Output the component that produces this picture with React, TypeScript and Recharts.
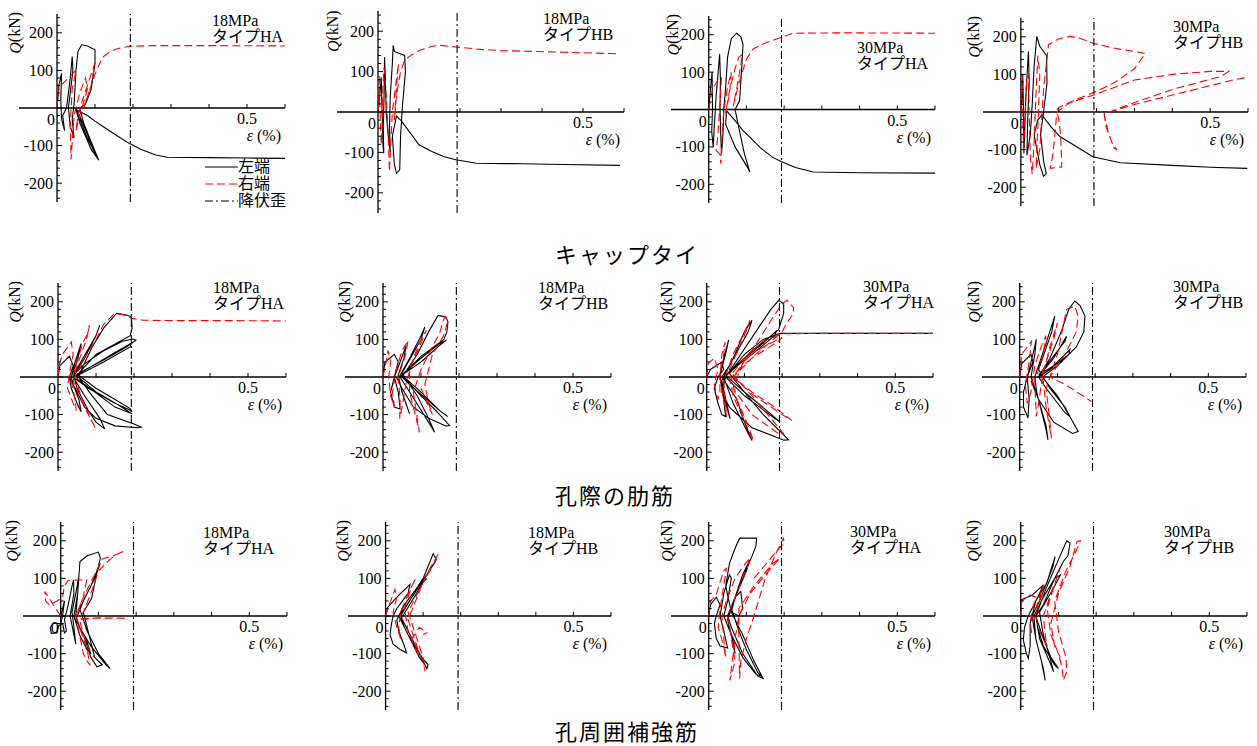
import React from 'react';
import { LineChart, Line, XAxis, YAxis, ReferenceLine, ReferenceDot, Legend } from 'recharts';

// ---------- axis / label values ----------
const xDomain: [number, number] = [-0.1, 0.6];
const yDomain: [number, number] = [-250, 250];
const yMajorTicks = [-200, -100, 0, 100, 200];
const yMinorTicks = [-240, -220, -180, -160, -140, -120, -80, -60, -40, -20, 20, 40, 60, 80, 120, 140, 160, 180, 220, 240];
const xTicks = [0.1, 0.2, 0.3, 0.4, 0.5, 0.6];
const xTickLabels = [0.5];
const yieldStrain = 0.193;
const rowTitles = ['キャップタイ', '孔際の肋筋', '孔周囲補強筋'];
const strengths = ['18MPa', '18MPa', '30MPa', '30MPa'];
const types = ['タイプHA', 'タイプHB', 'タイプHA', 'タイプHB'];
const seriesNames = ['左端', '右端', '降伏歪'];

// ---------- data: [strain %, Q kN] ----------
// キャップタイ
const cap18HALeft = [[0,0],[0.005,60],[0.012,92],[0.01,20],[0.012,-30],[0.02,-60],[0.015,-20],[0.025,0],[0.035,80],[0.04,137],[0.042,100],[0.03,0],[0.035,-50],[0.045,-80],[0.04,-30],[0.045,10],[0.05,100],[0.055,150],[0.065,168],[0.08,165],[0.1,155],[0.1,120],[0.09,50],[0.075,10],[0.06,0],[0.07,-40],[0.09,-90],[0.11,-139],[0.1,-120],[0.08,-80],[0.06,-30],[0.05,0],[0.07,-45],[0.09,-95],[0.108,-136],[0.09,-110],[0.06,-40],[0.05,-5],[0.08,-20],[0.1,-35],[0.13,-55],[0.16,-75],[0.19,-94],[0.22,-110],[0.26,-125],[0.29,-131],[0.4,-132],[0.5,-133],[0.6,-134]];
const cap18HARight = [[0,0],[0.005,55],[0.03,80],[0.05,100],[0.04,50],[0.035,-40],[0.037,-137],[0.04,-90],[0.045,-20],[0.06,40],[0.075,80],[0.08,50],[0.06,-20],[0.05,-60],[0.055,-20],[0.07,30],[0.09,90],[0.1,120],[0.09,60],[0.07,0],[0.08,30],[0.1,90],[0.12,135],[0.14,150],[0.16,158],[0.19,164],[0.25,166],[0.4,166],[0.6,165]];
const cap18HBLeft = [[0,0],[0.006,60],[0.008,86],[0.01,0],[0.012,-80],[0.014,-102],[0.013,-40],[0.015,50],[0.016,136],[0.018,80],[0.02,0],[0.025,-60],[0.03,-100],[0.028,-40],[0.03,40],[0.035,120],[0.037,165],[0.04,150],[0.065,140],[0.067,100],[0.06,20],[0.055,-60],[0.053,-143],[0.045,-152],[0.04,-130],[0.035,-60],[0.045,-10],[0.057,-22],[0.07,-40],[0.1,-81],[0.13,-97],[0.16,-110],[0.19,-118],[0.24,-127],[0.35,-128],[0.45,-130],[0.59,-132]];
const cap18HBRight = [[0,0],[0.003,90],[0.005,0],[0.008,-80],[0.01,-40],[0.012,60],[0.015,110],[0.02,40],[0.025,-60],[0.028,-148],[0.03,-100],[0.035,0],[0.045,80],[0.05,120],[0.045,60],[0.04,-20],[0.045,40],[0.055,100],[0.065,128],[0.08,140],[0.1,152],[0.13,162],[0.15,165],[0.19,161],[0.25,155],[0.3,152],[0.45,148],[0.59,144]];
const cap30HALeft = [[0,0],[0.005,60],[0.009,100],[0.01,0],[0.008,-60],[0.012,-100],[0.015,-40],[0.02,40],[0.029,148],[0.031,80],[0.03,0],[0.032,-70],[0.034,-118],[0.038,-60],[0.04,0],[0.045,60],[0.05,140],[0.06,190],[0.074,204],[0.085,195],[0.091,175],[0.088,120],[0.082,24],[0.07,0],[0.08,-50],[0.095,-120],[0.109,-167],[0.1,-150],[0.07,-100],[0.045,-40],[0.047,-3],[0.07,-30],[0.09,-55],[0.109,-74],[0.14,-105],[0.17,-128],[0.193,-140],[0.23,-155],[0.277,-167],[0.4,-169],[0.6,-170]];
const cap30HARight = [[0,0],[0.01,55],[0.025,80],[0.034,86],[0.03,20],[0.025,-60],[0.02,-110],[0.03,-120],[0.032,-145],[0.035,-80],[0.04,0],[0.05,60],[0.06,100],[0.055,40],[0.045,-10],[0.055,50],[0.07,110],[0.08,140],[0.09,148],[0.075,60],[0.065,10],[0.08,70],[0.1,135],[0.118,162],[0.15,178],[0.193,193],[0.224,204],[0.35,205],[0.6,204]];
const cap30HBLeft = [[0,0],[0.004,60],[0.005,99],[0.007,0],[0.008,-110],[0.01,-60],[0.013,40],[0.02,161],[0.022,80],[0.018,-20],[0.016,-115],[0.025,-60],[0.03,20],[0.035,120],[0.042,201],[0.05,175],[0.06,161],[0.068,150],[0.069,76],[0.06,0],[0.052,-60],[0.06,-130],[0.067,-164],[0.06,-171],[0.05,-140],[0.035,-60],[0.045,-20],[0.056,-8],[0.08,-40],[0.104,-66],[0.14,-88],[0.19,-119],[0.263,-135],[0.4,-142],[0.5,-147],[0.598,-150]];
const cap30HBRight = [[0,0],[0.003,100],[0.005,0],[0.007,-110],[0.01,-30],[0.015,80],[0.02,100],[0.022,0],[0.025,-120],[0.03,-165],[0.035,-80],[0.04,50],[0.045,150],[0.05,100],[0.045,-40],[0.04,-150],[0.05,-100],[0.06,60],[0.073,179],[0.1,195],[0.13,201],[0.16,195],[0.19,183],[0.245,170],[0.329,156],[0.3,115],[0.25,80],[0.2,55],[0.15,35],[0.1,12],[0.095,5],[0.1,-20],[0.105,-60],[0.108,-146],[0.078,-150],[0.085,-110],[0.09,-60],[0.095,0],[0.13,25],[0.2,48],[0.3,85],[0.4,100],[0.5,108],[0.549,108],[0.53,95],[0.4,60],[0.3,25],[0.22,-5],[0.225,-40],[0.24,-80],[0.254,-101],[0.245,-95],[0.23,-50],[0.22,-5],[0.3,20],[0.4,45],[0.5,70],[0.56,85],[0.598,92]];

// 孔際の肋筋
const stir18HALeft = [[0,0],[0.005,30],[0.03,55],[0.04,30],[0.03,0],[0.035,-30],[0.05,-70],[0.061,-93],[0.055,-60],[0.04,-20],[0.035,0],[0.045,40],[0.061,89],[0.055,60],[0.04,10],[0.05,-30],[0.08,-90],[0.1,-120],[0.123,-138],[0.11,-110],[0.07,-50],[0.04,0],[0.07,50],[0.1,110],[0.11,138],[0.1,110],[0.06,40],[0.04,5],[0.07,35],[0.12,70],[0.17,95],[0.197,101],[0.205,98],[0.18,80],[0.12,45],[0.05,8],[0.1,-30],[0.15,-60],[0.19,-84],[0.193,-90],[0.15,-70],[0.08,-30],[0.04,0],[0.1,35],[0.15,65],[0.193,90],[0.19,80],[0.12,40],[0.05,3],[0.1,-40],[0.16,-75],[0.195,-98],[0.15,-80],[0.05,-5],[0.09,80],[0.12,130],[0.154,169],[0.18,165],[0.193,160],[0.195,130],[0.19,110],[0.1,60],[0.05,5],[0.09,-50],[0.13,-100],[0.2,-125],[0.219,-133],[0.21,-135],[0.15,-130],[0.1,-110],[0.07,-80],[0.05,-40],[0.03,0]];
const stir18HARight = [[0,0],[0.005,40],[0.013,62],[0.035,93],[0.04,60],[0.03,10],[0.025,-30],[0.04,-70],[0.048,-89],[0.045,-60],[0.035,-10],[0.05,40],[0.065,90],[0.08,120],[0.083,138],[0.075,100],[0.05,30],[0.04,-10],[0.06,-60],[0.08,-100],[0.1,-138],[0.09,-120],[0.06,-50],[0.045,0],[0.07,50],[0.1,100],[0.12,140],[0.149,169],[0.17,166],[0.193,156],[0.224,151],[0.3,150],[0.45,150],[0.6,149]];
const stir18HBLeft = [[0,0],[0.005,40],[0.03,60],[0.04,40],[0.03,0],[0.02,-40],[0.03,-80],[0.045,-85],[0.04,-40],[0.03,0],[0.045,40],[0.061,84],[0.055,50],[0.04,5],[0.05,-40],[0.07,-98],[0.06,-70],[0.04,-5],[0.07,50],[0.1,110],[0.11,133],[0.1,100],[0.05,10],[0.09,-50],[0.12,-110],[0.136,-147],[0.12,-120],[0.07,-40],[0.045,0],[0.1,50],[0.15,90],[0.167,98],[0.15,85],[0.1,40],[0.05,5],[0.1,-40],[0.15,-90],[0.17,-105],[0.15,-90],[0.07,-20],[0.05,0],[0.09,60],[0.12,120],[0.145,164],[0.165,160],[0.171,147],[0.168,120],[0.16,100],[0.1,55],[0.05,5],[0.1,-50],[0.14,-90],[0.175,-129],[0.165,-130],[0.12,-110],[0.08,-80],[0.05,-30],[0.035,0]];
const stir18HBRight = [[0,0],[0.01,50],[0.013,71],[0.02,40],[0.015,0],[0.02,-50],[0.03,-80],[0.025,-40],[0.035,20],[0.05,70],[0.066,98],[0.06,60],[0.04,0],[0.045,-60],[0.044,-111],[0.05,-80],[0.06,-20],[0.08,50],[0.1,100],[0.114,124],[0.1,90],[0.07,20],[0.07,-40],[0.085,-100],[0.096,-147],[0.09,-110],[0.08,-40],[0.1,20],[0.13,80],[0.15,120],[0.162,160],[0.171,151],[0.16,110],[0.13,60],[0.11,-20],[0.12,-70],[0.13,-100],[0.12,-80],[0.1,-30]];
const stir30HALeft = [[0,0],[0.01,20],[0.04,40],[0.045,20],[0.03,0],[0.02,-30],[0.03,-70],[0.04,-100],[0.05,-105],[0.045,-60],[0.035,0],[0.045,50],[0.058,98],[0.05,60],[0.035,5],[0.045,-50],[0.062,-111],[0.055,-80],[0.04,-10],[0.07,50],[0.1,120],[0.12,151],[0.11,120],[0.06,30],[0.04,0],[0.08,-60],[0.1,-120],[0.12,-169],[0.11,-150],[0.07,-70],[0.045,0],[0.1,50],[0.15,90],[0.186,124],[0.18,110],[0.12,60],[0.05,5],[0.1,-40],[0.16,-90],[0.195,-120],[0.18,-110],[0.1,-50],[0.05,0],[0.09,60],[0.13,120],[0.17,180],[0.191,204],[0.204,195],[0.204,169],[0.195,140],[0.19,125],[0.12,70],[0.06,10],[0.1,-40],[0.15,-100],[0.2,-150],[0.217,-167],[0.205,-168],[0.12,-135],[0.06,-80],[0.04,-40],[0.05,0],[0.1,60],[0.15,100],[0.195,116],[0.3,116],[0.45,116],[0.6,116]];
const stir30HARight = [[0,0],[0.004,36],[0.02,50],[0.03,20],[0.02,-20],[0.03,-60],[0.035,-40],[0.035,10],[0.045,60],[0.049,93],[0.04,60],[0.035,0],[0.045,-60],[0.053,-107],[0.05,-70],[0.045,-10],[0.07,60],[0.1,120],[0.115,151],[0.1,110],[0.06,20],[0.08,-60],[0.11,-130],[0.124,-169],[0.11,-140],[0.07,-50],[0.06,0],[0.1,50],[0.15,80],[0.2,105],[0.19,95],[0.12,50],[0.07,0],[0.12,-40],[0.18,-80],[0.226,-116],[0.2,-100],[0.12,-45],[0.07,0],[0.12,70],[0.17,150],[0.2,195],[0.213,204],[0.23,185],[0.23,169],[0.21,140],[0.2,120],[0.13,60],[0.07,5],[0.12,-50],[0.17,-110],[0.204,-151],[0.19,-150],[0.12,-100],[0.07,-30],[0.1,50],[0.15,95],[0.2,115],[0.3,116],[0.45,116],[0.6,116]];
const stir30HBLeft = [[0,0],[0.005,35],[0.03,60],[0.035,40],[0.02,0],[0.01,-40],[0.01,-80],[0.022,-109],[0.025,-60],[0.02,0],[0.035,60],[0.044,100],[0.04,60],[0.03,0],[0.05,-60],[0.07,-130],[0.075,-167],[0.07,-140],[0.045,-40],[0.04,0],[0.07,90],[0.093,162],[0.085,120],[0.05,20],[0.08,-30],[0.12,-80],[0.133,-105],[0.12,-95],[0.07,-30],[0.05,0],[0.09,50],[0.124,108],[0.12,95],[0.07,30],[0.05,5],[0.09,30],[0.133,73],[0.13,60],[0.08,20],[0.05,0],[0.08,50],[0.11,120],[0.13,180],[0.146,202],[0.16,190],[0.173,162],[0.17,120],[0.15,80],[0.1,30],[0.06,0],[0.1,-50],[0.13,-100],[0.155,-145],[0.14,-150],[0.09,-120],[0.05,-60],[0.03,-10]];
const stir30HBRight = [[0,0],[0.005,60],[0.02,80],[0.031,95],[0.025,40],[0.015,-20],[0.02,-70],[0.03,-40],[0.04,30],[0.06,90],[0.07,110],[0.06,50],[0.04,-10],[0.044,-105],[0.05,-70],[0.06,0],[0.08,80],[0.1,144],[0.09,100],[0.06,10],[0.07,-80],[0.084,-163],[0.08,-120],[0.07,-30],[0.1,60],[0.124,180],[0.146,188],[0.155,162],[0.15,120],[0.12,60],[0.08,0],[0.12,-20],[0.16,-45],[0.19,-65]];

// 孔周囲補強筋
const ring18HALeft = [[0,0],[0.005,20],[0.01,40],[0.005,0],[0,-20],[-0.02,-20],[-0.028,-30],[-0.025,-46],[-0.01,-45],[-0.005,-25],[0.005,-20],[0.01,-45],[0.015,-40],[0.01,-10],[0.02,30],[0.03,80],[0.034,96],[0.035,60],[0.025,0],[0.035,-50],[0.04,-75],[0.035,-30],[0.03,10],[0.04,60],[0.047,100],[0.045,60],[0.035,0],[0.05,-50],[0.07,-90],[0.08,-100],[0.07,-70],[0.04,-10],[0.06,40],[0.08,80],[0.1,130],[0.105,140],[0.09,100],[0.05,20],[0.07,-40],[0.1,-100],[0.131,-140],[0.12,-130],[0.08,-80],[0.05,-30],[0.04,0],[0.045,60],[0.051,145],[0.07,160],[0.1,170],[0.105,154],[0.095,110],[0.082,47],[0.06,10],[0.075,-50],[0.09,-110],[0.11,-130],[0.096,-135],[0.08,-110],[0.06,-50]];
const ring18HARight = [[0,0],[-0.02,30],[-0.042,65],[-0.04,40],[-0.03,29],[-0.01,40],[0.005,50],[0.01,80],[0.02,95],[0.06,96],[0.069,96],[0.06,50],[0.04,0],[0.05,-50],[0.06,-100],[0.07,-120],[0.078,-131],[0.07,-90],[0.05,-30],[0.04,0],[0.06,50],[0.08,90],[0.1,130],[0.105,149],[0.12,155],[0.14,160],[0.167,172],[0.15,165],[0.13,150],[0.1,120],[0.08,60],[0.06,10],[0.05,-6],[0.1,-6],[0.175,-6],[0.1,-5],[0.05,-10],[0.06,-50],[0.08,-100],[0.09,-110]];
const ring18HBLeft = [[0,0],[0.005,22],[0.03,50],[0.065,84],[0.06,60],[0.03,20],[0.02,0],[0.015,-25],[0.012,-50],[0.02,-75],[0.04,-90],[0.056,-98],[0.05,-80],[0.035,-40],[0.03,-10],[0.05,30],[0.08,70],[0.1,100],[0.09,80],[0.05,20],[0.035,0],[0.06,-50],[0.09,-100],[0.105,-130],[0.09,-110],[0.05,-30],[0.04,0],[0.07,50],[0.1,100],[0.127,166],[0.135,150],[0.11,110],[0.07,50],[0.04,0],[0.06,-40],[0.09,-100],[0.11,-140],[0.113,-129],[0.1,-115],[0.06,-50],[0.04,-10],[0.07,40],[0.1,90],[0.11,100]];
const ring18HBRight = [[0,0],[0.01,30],[0.025,71],[0.03,50],[0.02,10],[0.03,-30],[0.04,-60],[0.035,-30],[0.04,10],[0.06,60],[0.08,100],[0.07,80],[0.05,20],[0.06,-40],[0.08,-90],[0.09,-100],[0.08,-70],[0.06,-10],[0.08,40],[0.1,90],[0.12,130],[0.14,164],[0.13,140],[0.1,90],[0.06,10],[0.08,-50],[0.1,-110],[0.105,-147],[0.1,-120],[0.07,-60],[0.09,-30],[0.11,-45],[0.1,-50]];
const ring30HALeft = [[0,0],[0.005,30],[0.02,50],[0.03,30],[0.02,0],[0.015,-20],[0.02,-60],[0.03,-80],[0.05,-85],[0.04,-40],[0.03,0],[0.04,60],[0.055,110],[0.06,100],[0.05,40],[0.04,0],[0.06,-50],[0.07,-100],[0.065,-70],[0.05,-10],[0.07,50],[0.09,110],[0.109,149],[0.1,120],[0.07,50],[0.06,10],[0.09,-50],[0.12,-120],[0.144,-166],[0.13,-160],[0.09,-100],[0.06,-30],[0.05,0],[0.07,50],[0.085,65],[0.09,20],[0.08,0],[0.06,10],[0.045,80],[0.055,140],[0.07,180],[0.082,207],[0.127,207],[0.125,185],[0.115,160],[0.09,100],[0.06,20],[0.08,-40],[0.1,-90],[0.13,-150],[0.14,-160],[0.125,-155],[0.09,-110],[0.06,-50]];
const ring30HARight = [[0,0],[0.005,40],[0.02,56],[0.03,90],[0.04,120],[0.047,127],[0.04,80],[0.03,20],[0.025,-30],[0.04,-80],[0.045,-110],[0.04,-60],[0.035,0],[0.05,50],[0.07,100],[0.09,130],[0.109,154],[0.1,120],[0.07,50],[0.05,0],[0.06,-60],[0.07,-120],[0.056,-171],[0.06,-140],[0.07,-60],[0.08,0],[0.11,60],[0.15,110],[0.189,154],[0.17,140],[0.12,80],[0.08,20],[0.08,-60],[0.082,-166],[0.085,-120],[0.1,-60],[0.12,0],[0.15,100],[0.18,170],[0.198,207],[0.2,195],[0.17,160],[0.12,100]];
const ring30HBLeft = [[0,0],[0.001,43],[0.03,55],[0.06,83],[0.05,60],[0.03,20],[0.02,0],[0.01,-30],[0.007,-64],[0.015,-100],[0.02,-113],[0.025,-80],[0.025,-20],[0.04,40],[0.07,90],[0.091,158],[0.085,130],[0.05,40],[0.03,0],[0.04,-60],[0.055,-120],[0.065,-171],[0.06,-140],[0.04,-60],[0.035,0],[0.06,50],[0.09,100],[0.105,109],[0.09,80],[0.05,10],[0.06,-50],[0.08,-120],[0.087,-148],[0.08,-130],[0.05,-60],[0.04,0],[0.07,80],[0.1,150],[0.122,200],[0.131,194],[0.125,160],[0.113,145],[0.09,100],[0.06,30],[0.04,0],[0.06,-60],[0.08,-110],[0.1,-140],[0.09,-130],[0.06,-80],[0.045,-30]];
const ring30HBRight = [[0,0],[0.003,40],[0.025,56],[0.04,50],[0.03,10],[0.025,-20],[0.03,-50],[0.025,-20],[0.04,20],[0.06,83],[0.055,60],[0.04,0],[0.05,-40],[0.07,-80],[0.065,-50],[0.06,0],[0.08,60],[0.105,127],[0.095,100],[0.07,20],[0.08,-50],[0.1,-100],[0.105,-110],[0.09,-80],[0.08,-20],[0.1,60],[0.13,130],[0.149,198],[0.158,200],[0.15,180],[0.12,120],[0.09,40],[0.1,-40],[0.12,-110],[0.122,-148],[0.113,-171],[0.11,-140],[0.1,-100]];

const panelData = [
  [[cap18HALeft, cap18HARight], [cap18HBLeft, cap18HBRight], [cap30HALeft, cap30HARight], [cap30HBLeft, cap30HBRight]],
  [[stir18HALeft, stir18HARight], [stir18HBLeft, stir18HBRight], [stir30HALeft, stir30HARight], [stir30HBLeft, stir30HBRight]],
  [[ring18HALeft, ring18HARight], [ring18HBLeft, ring18HBRight], [ring30HALeft, ring30HARight], [ring30HBLeft, ring30HBRight]],
];

// ---------- layout (pixels) ----------
const layout = [
  [
    { l: 19, r: 285, t: 14, b: 202, ax: 212, ay: 20, q: -42 },
    { l: 337, r: 624, t: 11, b: 213, ax: 543, ay: 18, q: -45 },
    { l: 671, r: 935, t: 16, b: 203, ax: 857, ay: 47, q: -36 },
    { l: 983, r: 1248, t: 18, b: 206, ax: 1173, ay: 26, q: -47 },
  ],
  [
    { l: 20, r: 286, t: 283, b: 471, ax: 213, ay: 287, q: -43 },
    { l: 345, r: 611, t: 283, b: 471, ax: 538, ay: 287, q: -38 },
    { l: 669, r: 933, t: 283, b: 471, ax: 863, ay: 286, q: -40 },
    { l: 982, r: 1246, t: 283, b: 471, ax: 1173, ay: 286, q: -46 },
  ],
  [
    { l: 23, r: 287, t: 522, b: 710, ax: 203, ay: 532, q: -49 },
    { l: 348, r: 611, t: 522, b: 710, ax: 528, ay: 532, q: -43 },
    { l: 671, r: 935, t: 522, b: 710, ax: 850, ay: 531, q: -42 },
    { l: 983, r: 1247, t: 522, b: 710, ax: 1164, ay: 531, q: -48 },
  ],
];
const titleTops = [241, 482, 718];
const legendPos = { x: 205, y: 158 };

const SERIF = '"Liberation Serif", "Times New Roman", Times, "Noto Sans CJK JP", serif';
const CJK = '"Noto Sans CJK JP", "Noto Sans CJK SC", sans-serif';

const seriesStyle: Record<string, { stroke: string; dash?: string; width: number }> = {
  '左端': { stroke: '#000000', width: 1.1 },
  '右端': { stroke: '#ff0000', dash: '8 4', width: 1.1 },
  '降伏歪': { stroke: '#000000', dash: '8 3 2 3', width: 1.1 },
};

const toRows = (pts: number[][]) => pts.map(([x, y]) => ({ x, y }));

const yTickShape = (label: string | null, len: number) => (p: any) => (
  <g>
    <line x1={p.cx} y1={p.cy} x2={p.cx + len} y2={p.cy} stroke="#000" strokeWidth={1} />
    {label !== null && (
      <text x={p.cx - 4} y={p.cy + 5.5} textAnchor="end" fontSize={16} fontFamily={SERIF} fill="#000">{label}</text>
    )}
  </g>
);

const xTickShape = (label: string | null) => (p: any) => (
  <g>
    <line x1={p.cx} y1={p.cy} x2={p.cx} y2={p.cy - 4} stroke="#000" strokeWidth={1} />
    {label !== null && (
      <text x={p.cx} y={p.cy + 16} textAnchor="middle" fontSize={16} fontFamily={SERIF} fill="#000">{label}</text>
    )}
  </g>
);

const LegendBox = (props: any) => {
  const items = (props.payload || [])
    .filter((e: any) => seriesStyle[e.value])
    .slice()
    .sort((a: any, b: any) => seriesNames.indexOf(a.value) - seriesNames.indexOf(b.value));
  return (
    <div style={{ display: 'flex', flexDirection: 'column' }}>
      {items.map((e: any) => {
        const st = seriesStyle[e.value];
        return (
          <div key={e.value} style={{ display: 'flex', alignItems: 'center', height: 17 }}>
            <svg width={33} height={10} style={{ display: 'block' }}>
              <line x1={0} y1={5} x2={33} y2={5} stroke={st.stroke} strokeWidth={1.1} strokeDasharray={st.dash} />
            </svg>
            <span style={{ fontFamily: SERIF, fontSize: 16, lineHeight: '17px', color: '#000', whiteSpace: 'nowrap' }}>{e.value}</span>
          </div>
        );
      })}
    </div>
  );
};

function Panel({ row, col }: { row: number; col: number }) {
  const g = layout[row][col];
  const [leftPts, rightPts] = panelData[row][col];
  const mL = 60, mR = 40, mT = 12, mB = 40;
  const W = g.r - g.l + mL + mR;
  const H = g.b - g.t + mT + mB;
  const showLegend = row === 0 && col === 0;
  const yieldRows = [{ x: yieldStrain, y: yDomain[0] }, { x: yieldStrain, y: yDomain[1] }];
  const annDx = g.ax - g.r;
  const annDy = g.ay - g.t;
  return (
    <div style={{ position: 'absolute', left: g.l - mL, top: g.t - mT }}>
      <LineChart width={W} height={H} margin={{ top: mT, right: mR, bottom: mB, left: mL }}>
        <XAxis type="number" dataKey="x" domain={xDomain} hide allowDataOverflow />
        <YAxis type="number" dataKey="y" domain={yDomain} hide allowDataOverflow />
        <ReferenceLine x={0} stroke="#000" strokeWidth={1.3} />
        <ReferenceLine y={0} stroke="#000" strokeWidth={1.3} />
        {yMinorTicks.map((v) => (
          <ReferenceDot key={'ym' + v} x={0} y={v} r={0} ifOverflow="visible" shape={yTickShape(null, 3)} />
        ))}
        {yMajorTicks.map((v) => (
          <ReferenceDot key={'yM' + v} x={0} y={v} r={0} ifOverflow="visible" shape={yTickShape(v === 0 ? null : String(v), 5)} />
        ))}
        {xTicks.map((v) => (
          <ReferenceDot key={'x' + v} x={v} y={0} r={0} ifOverflow="visible" shape={xTickShape(xTickLabels.includes(v) ? String(v) : null)} />
        ))}
        <ReferenceDot x={0} y={0} r={0} ifOverflow="visible" shape={(p: any) => (
          <text x={p.cx - 2} y={p.cy + 17} textAnchor="end" fontSize={16} fontFamily={SERIF} fill="#000">0</text>
        )} />
        <ReferenceDot x={xDomain[1]} y={0} r={0} ifOverflow="visible" shape={(p: any) => (
          <text x={p.cx - 4} y={p.cy + 33} textAnchor="end" fontSize={16} fontFamily={SERIF} fill="#000">
            <tspan fontStyle="italic">ε</tspan> (%)
          </text>
        )} />
        <ReferenceDot x={0} y={200} r={0} ifOverflow="visible" shape={(p: any) => (
          <text x={p.cx + g.q} y={p.cy} textAnchor="middle" dominantBaseline="central" fontSize={16} fontFamily={SERIF} fill="#000"
            transform={`rotate(-90 ${p.cx + g.q} ${p.cy})`}>
            <tspan fontStyle="italic">Q</tspan>(kN)
          </text>
        )} />
        <ReferenceDot x={xDomain[1]} y={yDomain[1]} r={0} ifOverflow="visible" shape={(p: any) => (
          <g fontSize={16} fontFamily={SERIF} fill="#000">
            <text x={p.cx + annDx} y={p.cy + annDy + 5.5}>{strengths[col]}</text>
            <text x={p.cx + annDx} y={p.cy + annDy + 22}>{types[col]}</text>
          </g>
        )} />
        <Line name={seriesNames[0]} data={toRows(leftPts)} dataKey="y" type="linear" stroke={seriesStyle['左端'].stroke}
          strokeWidth={seriesStyle['左端'].width} dot={false} activeDot={false} isAnimationActive={false} />
        <Line name={seriesNames[1]} data={toRows(rightPts)} dataKey="y" type="linear" stroke={seriesStyle['右端'].stroke}
          strokeDasharray={seriesStyle['右端'].dash} strokeWidth={seriesStyle['右端'].width} dot={false} activeDot={false} isAnimationActive={false} />
        <Line name={seriesNames[2]} data={yieldRows} dataKey="y" type="linear" stroke={seriesStyle['降伏歪'].stroke}
          strokeDasharray={seriesStyle['降伏歪'].dash} strokeWidth={seriesStyle['降伏歪'].width} dot={false} activeDot={false} isAnimationActive={false} />
        {showLegend && (
          <Legend layout="vertical" align="center" verticalAlign="middle" content={LegendBox}
            wrapperStyle={{ position: 'absolute', left: legendPos.x - (g.l - mL), top: legendPos.y - (g.t - mT), width: 'auto', height: 'auto' }} />
        )}
      </LineChart>
    </div>
  );
}

export default function App() {
  return (
    <div style={{ position: 'absolute', left: 0, top: 0, width: 1257, height: 746, background: '#fff', overflow: 'hidden' }}>
      {layout.map((rowGeo, row) => rowGeo.map((_, col) => <Panel key={row + '-' + col} row={row} col={col} />))}
      {rowTitles.map((t, i) => (
        <div key={t} style={{ position: 'absolute', left: 555, top: titleTops[i], fontFamily: CJK, fontSize: 22, lineHeight: '24px', letterSpacing: 2, color: '#000', whiteSpace: 'nowrap' }}>{t}</div>
      ))}
    </div>
  );
}
